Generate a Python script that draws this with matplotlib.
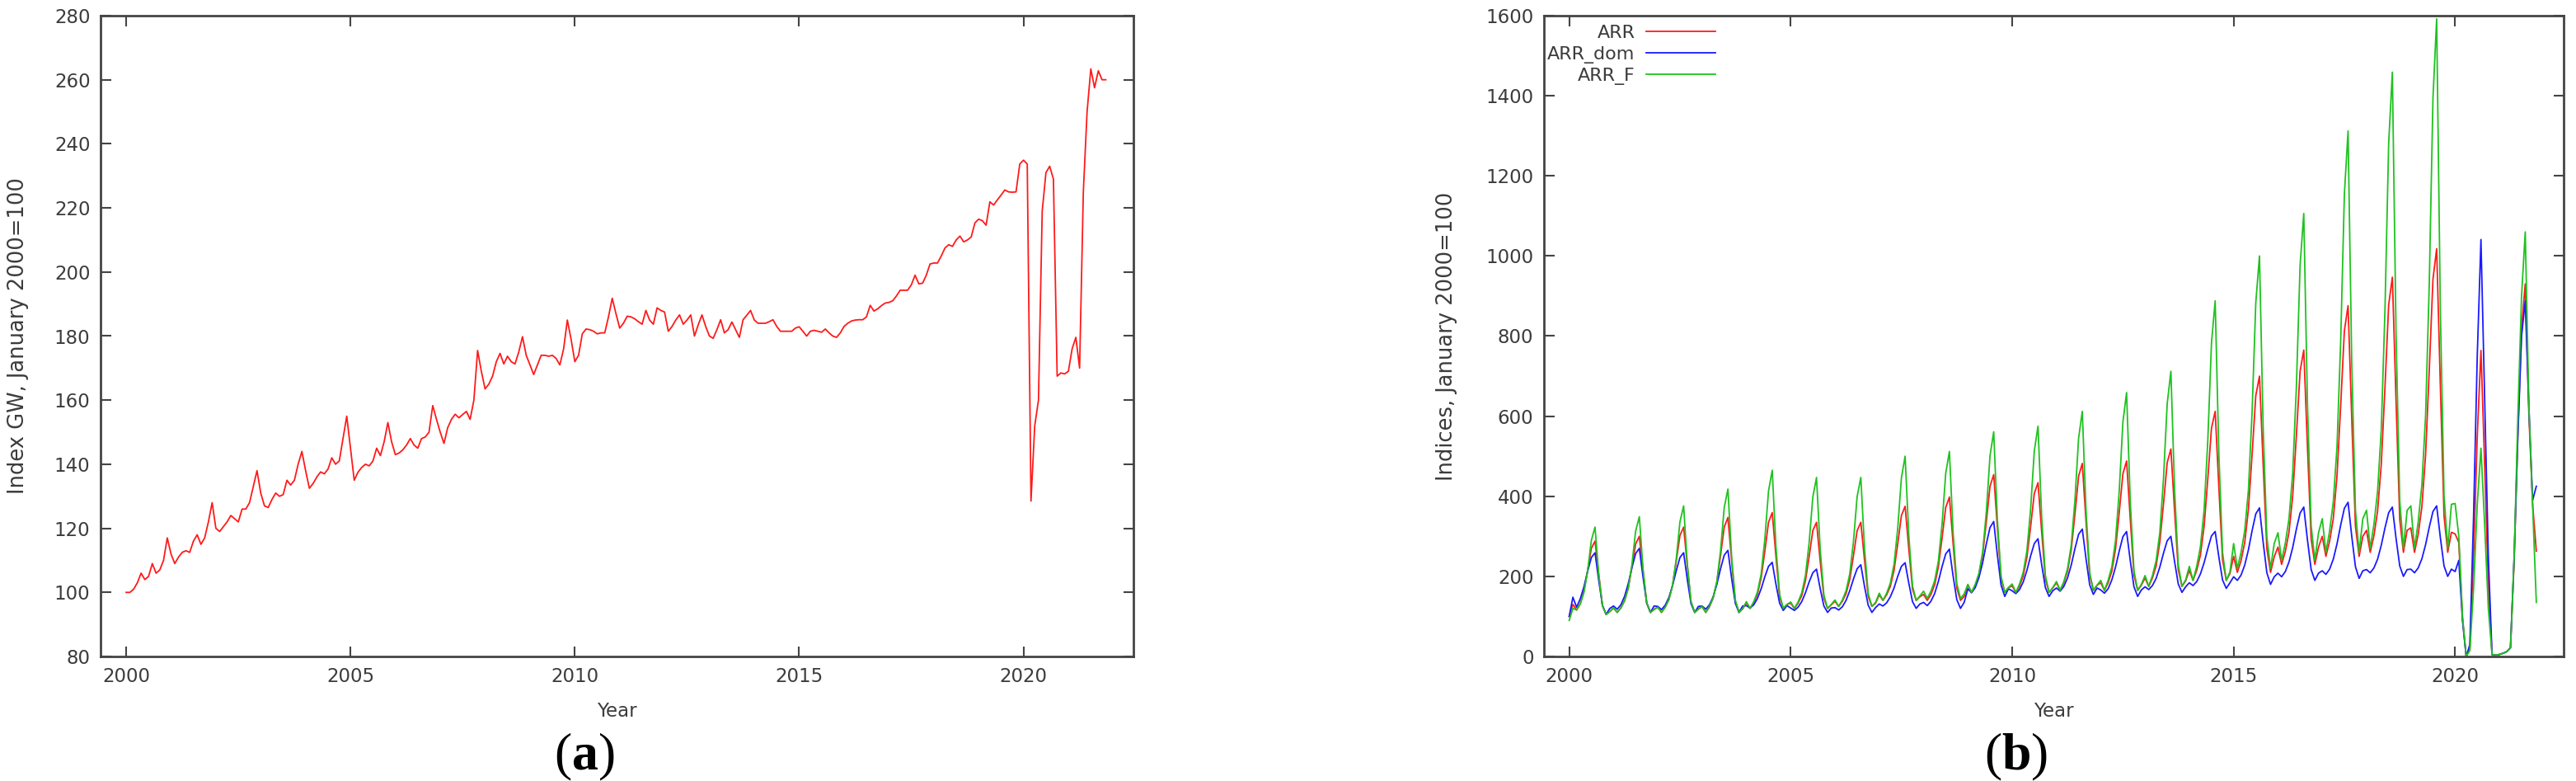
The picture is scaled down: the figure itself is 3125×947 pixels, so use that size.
import numpy as np
import matplotlib
matplotlib.use("Agg")
import matplotlib.pyplot as plt

# ---------------- data (monthly, Jan 2000 .. Nov 2021) ----------------
start_year = 2000

gw_index = [
    100, 100, 101, 103, 106, 104, 105, 109, 106, 107, 110, 117,
    112, 109, 111, 112.5, 113, 112.5, 116, 118, 115, 117, 122, 128,
    120, 119, 120.5, 122, 124, 123, 122, 126, 126, 128, 133, 138,
    131, 127, 126.5, 129, 131, 130, 130.5, 135, 133.5, 135, 140, 144,
    138, 132.5, 134, 136, 137.6, 137, 138.5, 142, 140, 141, 148, 155,
    145, 135, 137.5, 139, 140, 139.5, 141, 145, 142.7, 147, 153, 147,
    143, 143.5, 144.5, 146, 148, 146, 145, 148, 148.5, 150, 158.3, 154,
    150, 146.5, 151.4, 154, 155.6, 154.5, 155.5, 156.5, 154, 160, 175.5, 169,
    163.5, 165, 167.5, 172, 174.6, 171.3, 173.7, 172, 171.3, 175, 179.8, 174,
    171, 168, 171, 174, 174, 173.7, 174, 173, 171, 176, 185, 179,
    172, 174, 180.7, 182.2, 182, 181.5, 180.7, 181, 181, 186, 191.8, 187,
    182.5, 184, 186.2, 186, 185.4, 184.5, 183.7, 188, 185, 183.7, 188.8, 188,
    187.5, 181.5, 183, 185, 186.6, 183.7, 185, 186.6, 180, 183.5, 186.6, 183,
    180, 179.3, 182, 185.1, 181, 182, 184.4, 182, 179.6, 185.1, 186.5, 188,
    185, 184, 184, 184, 184.5, 185.1, 183, 181.5, 181.5, 181.5, 181.5, 182.5,
    182.9, 181.5, 180, 181.5, 181.8, 181.5, 181.2, 182.2, 181, 180, 179.6, 181,
    183, 184, 184.7, 185, 185.1, 185.1, 186, 189.6, 187.8, 188.5, 189.5, 190.3,
    190.5, 191, 192.5, 194.3, 194.3, 194.3, 196, 199, 196.3, 196.5, 199, 202.5,
    202.8, 202.8, 205, 207.5, 208.5, 208, 210, 211.2, 209.4, 210, 210.9, 215.3,
    216.5, 216, 214.6, 221.9, 220.9, 222.5, 224, 225.6, 225, 224.9, 225, 233.7,
    234.9, 233.7, 128.5, 152, 160, 219, 231, 233, 229, 167.5, 168.5, 168.2,
    169, 176, 179.6, 170, 225, 250, 263.4, 257.5, 262.8, 260, 260,
]

arr = [
    100, 130, 116, 132, 164, 215, 270, 288, 206, 127, 105, 112,
    121, 110, 121, 139, 171, 224, 281, 300, 215, 133, 110, 118,
    123, 110, 123, 142, 178, 238, 302, 323, 227, 136, 110, 119,
    124, 110, 124, 146, 186, 252, 323, 347, 240, 138, 110, 119,
    134, 120, 134, 156, 196, 263, 335, 359, 251, 149, 120, 130,
    133, 120, 133, 152, 189, 249, 314, 335, 238, 146, 120, 129,
    138, 125, 138, 157, 192, 251, 314, 335, 241, 150, 125, 133,
    154, 140, 154, 175, 215, 281, 352, 375, 269, 168, 140, 149,
    155, 140, 155, 179, 223, 295, 372, 398, 282, 171, 140, 150,
    178, 160, 178, 204, 254, 336, 425, 454, 322, 195, 160, 172,
    176, 160, 176, 201, 248, 324, 407, 434, 311, 193, 160, 171,
    184, 165, 184, 213, 266, 355, 450, 482, 339, 203, 165, 178,
    184, 165, 184, 213, 268, 359, 456, 488, 343, 204, 165, 178,
    196, 175, 196, 226, 285, 381, 484, 518, 364, 216, 175, 189,
    215, 190, 215, 253, 325, 443, 570, 612, 422, 241, 190, 207,
    250, 210, 239, 284, 367, 504, 651, 700, 480, 269, 210, 249,
    273, 230, 262, 310, 401, 551, 712, 765, 524, 294, 230, 273,
    300, 250, 288, 344, 450, 626, 813, 876, 594, 325, 250, 300,
    315, 260, 301, 363, 480, 672, 878, 947, 638, 342, 260, 315,
    321, 260, 305, 374, 503, 715, 942, 1018, 677, 351, 260, 310,
    306, 285, 95, 0, 20, 250, 550, 764, 480, 180, 5, 3,
    5, 8, 12, 22, 240, 560, 820, 930, 600, 380, 263,
]

arr_dom = [
    100, 148, 123, 144, 174, 213, 247, 259, 190, 128, 105, 120,
    126, 118, 129, 150, 182, 222, 257, 270, 198, 134, 110, 126,
    125, 117, 128, 147, 177, 214, 247, 259, 192, 132, 110, 125,
    126, 118, 129, 149, 180, 219, 253, 265, 195, 133, 110, 126,
    127, 121, 129, 145, 169, 199, 225, 235, 181, 133, 115, 127,
    121, 115, 123, 137, 159, 186, 209, 218, 169, 126, 110, 121,
    122, 116, 124, 140, 164, 193, 219, 229, 175, 128, 110, 122,
    131, 126, 134, 149, 171, 200, 225, 234, 183, 137, 120, 131,
    135, 127, 138, 157, 187, 224, 256, 268, 201, 142, 120, 135,
    169, 159, 172, 197, 234, 281, 322, 337, 253, 178, 150, 169,
    164, 157, 167, 186, 215, 251, 282, 294, 229, 172, 150, 164,
    171, 163, 175, 196, 228, 269, 305, 318, 245, 179, 155, 171,
    166, 158, 169, 191, 223, 263, 299, 312, 239, 174, 150, 166,
    174, 167, 177, 195, 223, 258, 289, 300, 237, 181, 160, 174,
    184, 177, 187, 206, 234, 269, 301, 312, 248, 191, 170, 184,
    199, 190, 203, 228, 266, 314, 356, 371, 285, 209, 180, 199,
    208, 199, 212, 236, 272, 318, 358, 373, 291, 217, 190, 208,
    214, 205, 218, 243, 281, 328, 370, 385, 300, 224, 195, 214,
    217, 209, 221, 243, 278, 321, 359, 373, 295, 226, 200, 217,
    218, 209, 221, 244, 279, 323, 362, 376, 297, 226, 200, 218,
    212, 240, 90, 0, 30, 350, 750, 1041, 650, 250, 5, 3,
    5, 8, 12, 22, 250, 550, 800, 888, 620, 390, 425,
]

arr_f = [
    90, 120, 116, 131, 160, 214, 290, 323, 203, 127, 105, 112,
    122, 110, 122, 139, 170, 230, 313, 349, 218, 134, 110, 117,
    123, 110, 123, 142, 177, 243, 336, 376, 230, 137, 110, 118,
    125, 110, 125, 147, 187, 264, 372, 418, 249, 141, 110, 119,
    137, 120, 137, 161, 206, 293, 413, 465, 275, 155, 120, 130,
    136, 120, 136, 159, 202, 284, 398, 447, 267, 153, 120, 130,
    141, 125, 141, 164, 206, 286, 399, 447, 270, 157, 125, 135,
    158, 140, 158, 183, 230, 320, 446, 500, 302, 176, 140, 151,
    163, 145, 163, 189, 237, 329, 457, 512, 310, 182, 145, 156,
    180, 160, 180, 208, 260, 360, 501, 561, 340, 200, 160, 172,
    181, 160, 181, 210, 264, 368, 513, 575, 347, 202, 160, 172,
    187, 165, 187, 219, 277, 389, 545, 612, 366, 210, 165, 178,
    190, 165, 190, 224, 289, 412, 585, 659, 387, 214, 165, 180,
    202, 175, 202, 239, 309, 444, 631, 712, 417, 229, 175, 191,
    225, 190, 225, 274, 365, 539, 783, 888, 504, 260, 190, 211,
    282, 220, 259, 314, 415, 610, 883, 1000, 571, 298, 220, 282,
    309, 240, 283, 344, 457, 673, 976, 1106, 630, 327, 240, 309,
    344, 260, 313, 386, 523, 786, 1154, 1312, 733, 365, 260, 344,
    365, 270, 329, 413, 567, 865, 1281, 1459, 805, 389, 270, 365,
    376, 270, 336, 429, 601, 931, 1394, 1592, 865, 402, 270, 380,
    382, 300, 100, 0, 15, 170, 380, 520, 330, 120, 5, 3,
    5, 8, 12, 22, 250, 600, 900, 1060, 620, 380, 135,
]

series_labels = ["ARR", "ARR_dom", "ARR_F"]
series_colors = ["#ff1a1a", "#1a1aff", "#1fc21f"]
x_ticks = [2000, 2005, 2010, 2015, 2020]
a_yticks = list(range(80, 281, 20))
b_yticks = list(range(0, 1601, 200))

# ---------------- figure ----------------
W, H = 3125, 947
fig = plt.figure(figsize=(W / 100, H / 100), dpi=100)
plt.rcParams['mathtext.fontset'] = 'custom'
plt.rcParams['mathtext.bf'] = 'Liberation Serif:bold'
plt.rcParams['mathtext.rm'] = 'Liberation Serif'

txt_col = "#3c3c3c"
spine_col = "#444444"
tick_fs = 16.5

def px_box(x0, x1, ytop, ybot):
    return [x0 / W, 1 - ybot / H, (x1 - x0) / W, (ybot - ytop) / H]

ax_a = fig.add_axes(px_box(122, 1375, 19, 796))
ax_b = fig.add_axes(px_box(1873, 3110, 19, 796))

t = lambda n: start_year + np.arange(n) / 12.0

ax_a.plot(t(len(gw_index)), gw_index, color="#ff1a1a", lw=1.3)

for vals, lab, col in zip([arr, arr_dom, arr_f], series_labels, series_colors):
    ax_b.plot(t(len(vals)), vals, color=col, lw=1.3, label=lab)

for ax, yt, ylab in [(ax_a, a_yticks, "Index GW, January 2000=100"),
                     (ax_b, b_yticks, "Indices, January 2000=100")]:
    ax.set_xlim(1999.43, 2022.45)
    ax.set_ylim(yt[0], yt[-1])
    ax.set_xticks(x_ticks)
    ax.set_yticks(yt)
    ax.tick_params(direction="in", length=9, width=1.5, top=True, right=True,
                   labelsize=tick_fs, labelcolor=txt_col, color=spine_col, pad=9)
    for s in ax.spines.values():
        s.set_color(spine_col)
        s.set_linewidth(2)
    ax.set_xlabel("Year", fontsize=tick_fs, color=txt_col, labelpad=14)
    ax.set_ylabel(ylab, fontsize=18.5, color=txt_col)

ax_a.yaxis.set_label_coords((35 - 122) / (1375 - 122), 0.5)
ax_b.yaxis.set_label_coords((1768 - 1873) / (3110 - 1873), 0.5)

ax_b.legend(loc="upper left", bbox_to_anchor=(1877 / W, 1 - 30 / H),
            bbox_transform=fig.transFigure, frameon=False, markerfirst=False,
            fontsize=16, handlelength=3.8, handletextpad=0.6, labelspacing=0.25,
            borderpad=0, borderaxespad=0, labelcolor=txt_col)

fig.text(709 / W, 1 - 918 / H, r"($\mathbf{a}$)", ha="center", va="center",
         fontsize=46, family="Liberation Serif")
fig.text(2446 / W, 1 - 918 / H, r"($\mathbf{b}$)", ha="center", va="center",
         fontsize=46, family="Liberation Serif")

fig.savefig("out.png", dpi=100)
